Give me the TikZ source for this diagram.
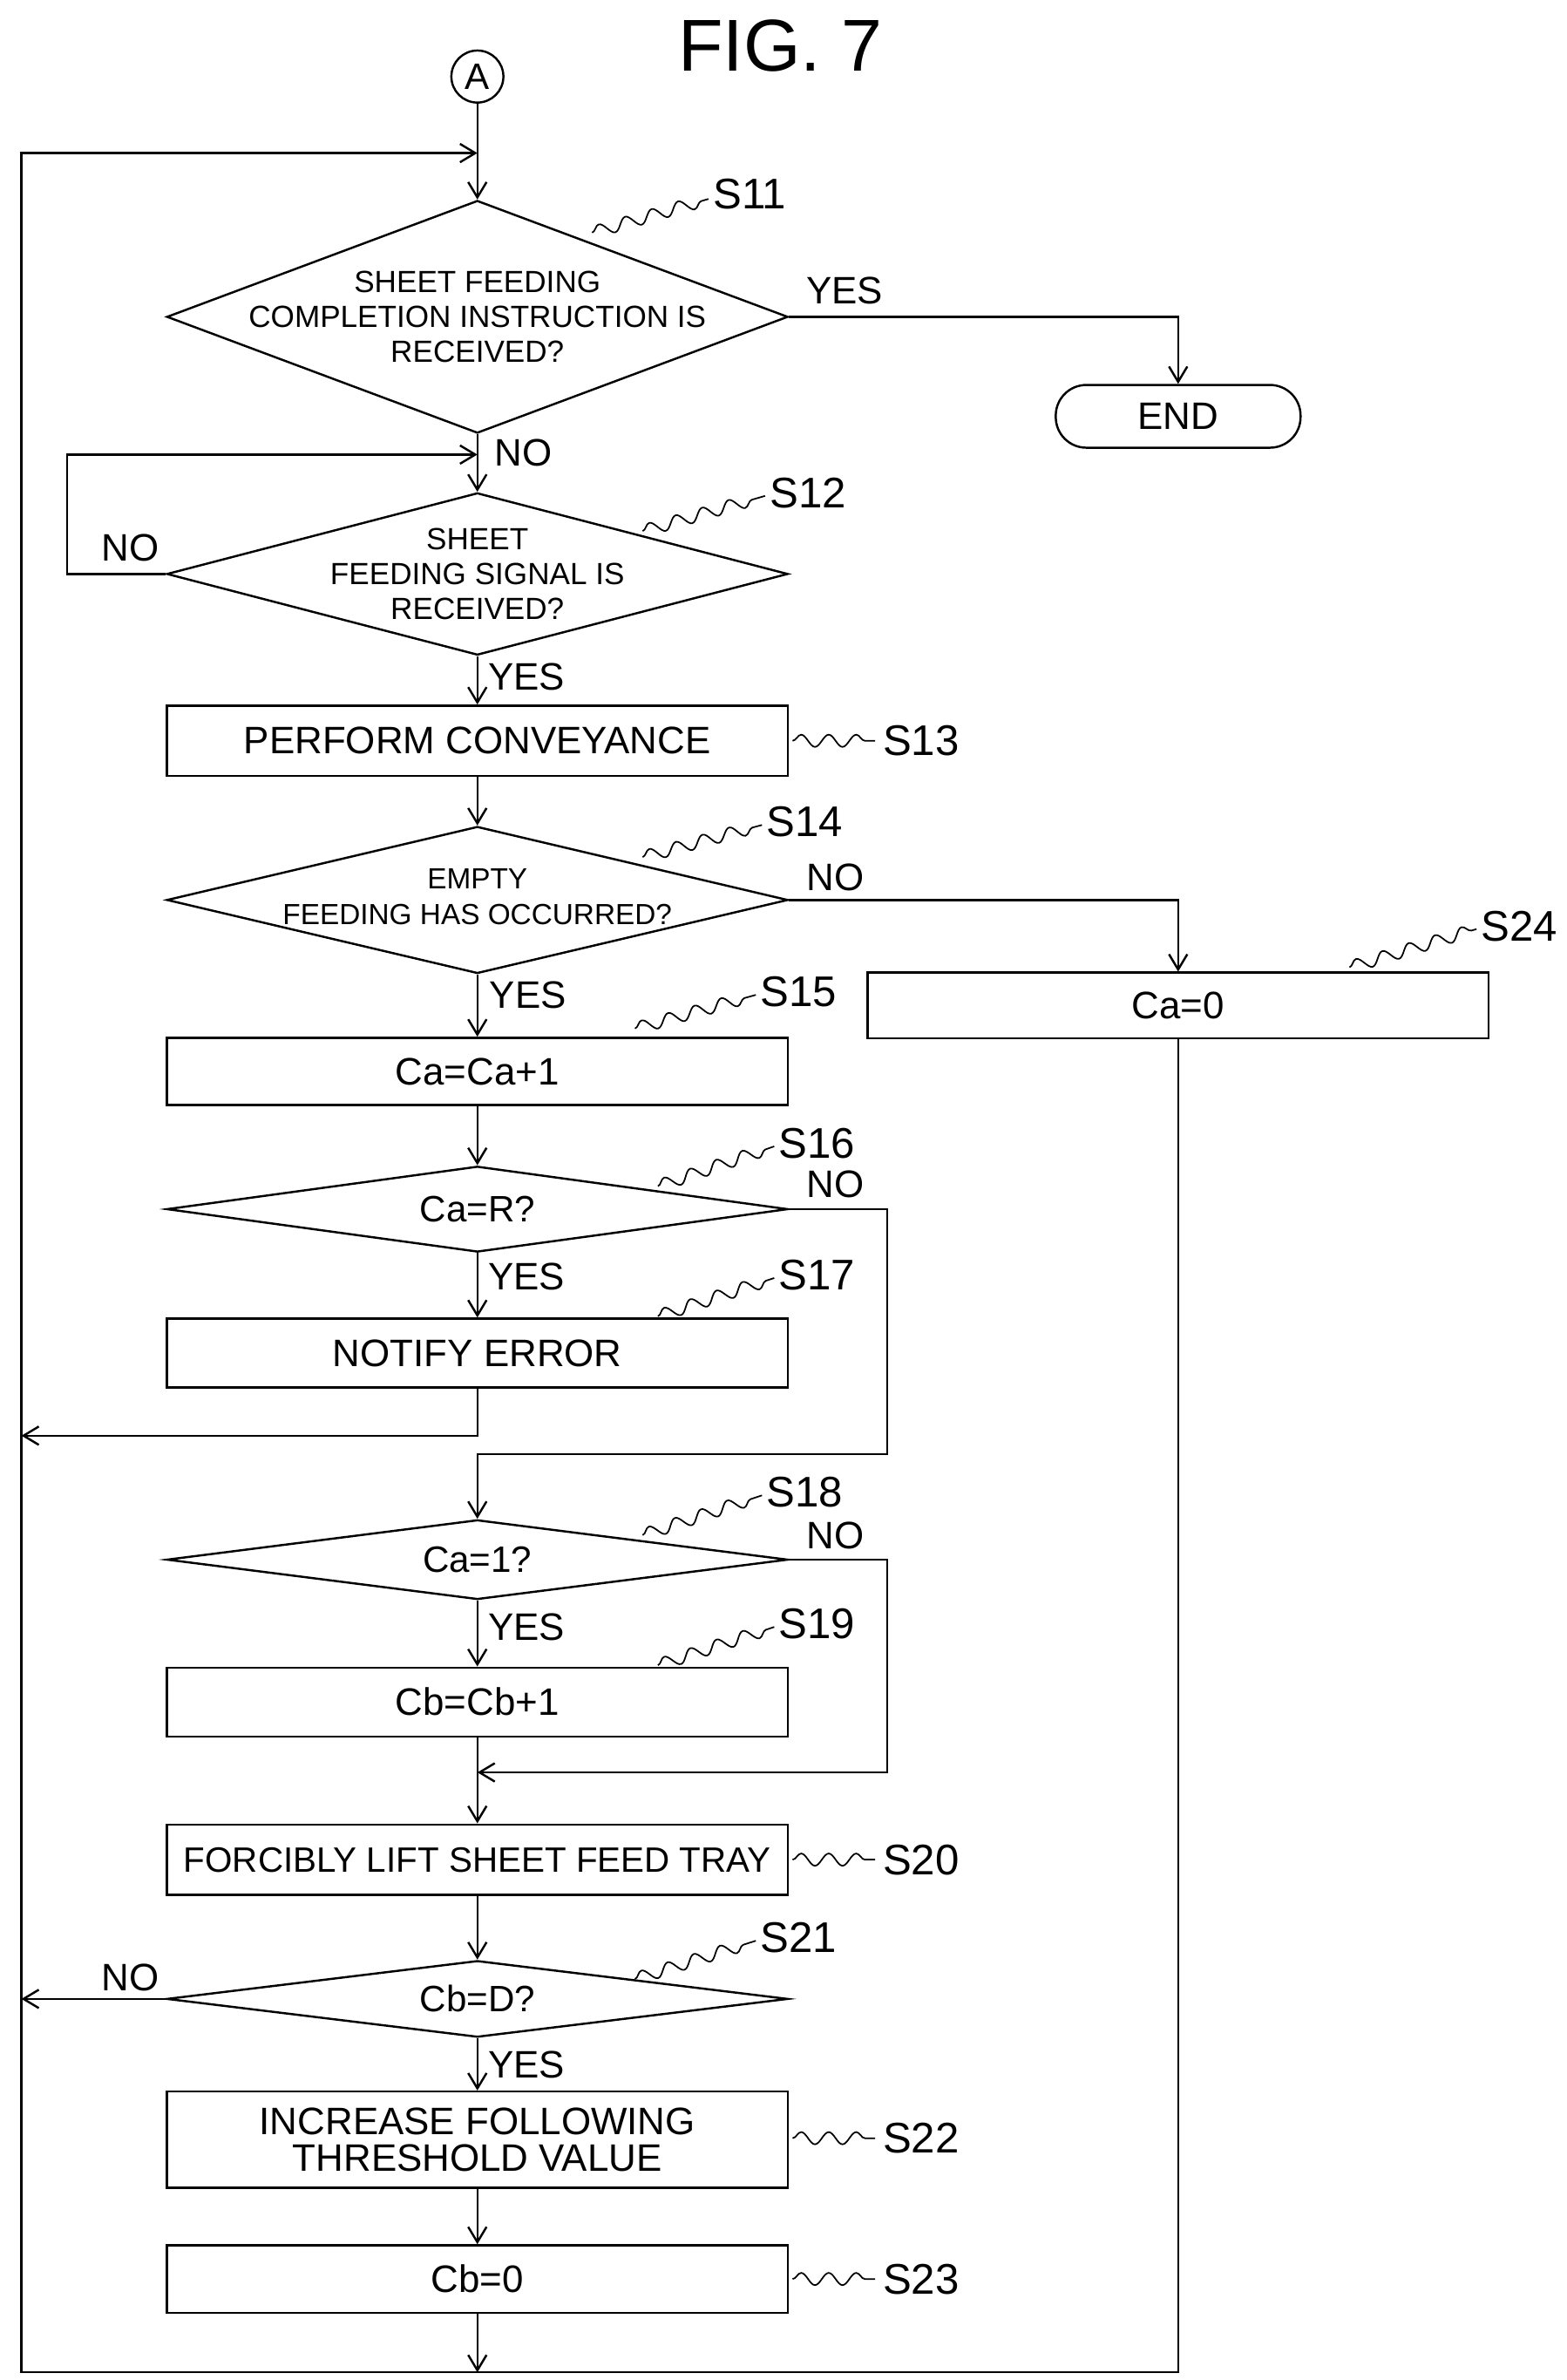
\documentclass[tikz,border=0pt]{standalone}
\usepackage{fontspec}
\setmainfont{Liberation Sans}
\usetikzlibrary{shapes.geometric,arrows.meta,decorations.pathmorphing}
\begin{document}
\begin{tikzpicture}[x=0.5pt,y=-0.5pt,line width=0.7pt,
  box/.style={draw,rectangle,minimum width=203pt,inner sep=0pt,font=\fontsize{12.5}{13}\selectfont},
  dia/.style={draw,diamond,minimum width=203pt,inner sep=0pt},
  dt/.style={align=center,font=\fontsize{10}{11.5}\selectfont,inner sep=0pt},
  lab/.style={font=\fontsize{12.5}{13}\selectfont,inner sep=1pt},
  stp/.style={font=\fontsize{14}{15}\selectfont,inner sep=1pt},
  arr/.style={-{Straight Barb[length=5pt,width=6pt]}},
  sq/.style={line width=0.5pt,decorate,decoration={snake,amplitude=2pt,segment length=9pt}}]
\useasboundingbox (0,0) rectangle (1024,1555);
\node[font=\fontsize{24}{26}\selectfont] (fig) at (510,30) {FIG. 7};
\node[draw,circle,minimum size=17pt,inner sep=0pt,font=\fontsize{12}{13}\selectfont] (A) at (312,50) {A};
\coordinate (j0) at (312,100);
\node[dia,minimum height=76pt] (s11) at (312,207) {};
\node[dt] at (s11) {SHEET FEEDING\\COMPLETION INSTRUCTION IS\\RECEIVED?};
\node[draw,rounded corners=10pt,minimum width=80pt,minimum height=20.5pt,font=\fontsize{12.5}{13}\selectfont] (end) at (770,272) {END};
\coordinate (j1) at (312,297);
\node[dia,minimum height=53pt] (s12) at (312,375) {};
\node[dt] at (s12) {SHEET\\FEEDING SIGNAL IS\\RECEIVED?};
\node[box,minimum height=23pt] (s13) at (312,484) {PERFORM CONVEYANCE};
\node[dia,minimum height=48pt] (s14) at (312,588) {};
\node[dt,font=\fontsize{9.5}{11.5}\selectfont] at (312,586) {EMPTY\\FEEDING HAS OCCURRED?};
\node[box,minimum height=21.5pt] (s24) at (770,657) {Ca=0};
\node[box,minimum height=22pt] (s15) at (312,700) {Ca=Ca+1};
\node[dia,minimum height=28pt] (s16) at (312,790) {};
\node[dt,font=\fontsize{12}{13}\selectfont] at (s16) {Ca=R?};
\node[box,minimum height=22.5pt] (s17) at (312,884) {NOTIFY ERROR};
\coordinate (j2) at (312,950);
\node[dia,minimum height=26pt] (s18) at (312,1019) {};
\node[dt,font=\fontsize{12}{13}\selectfont] at (s18) {Ca=1?};
\node[box,minimum height=22.5pt] (s19) at (312,1112) {Cb=Cb+1};
\coordinate (j3) at (312,1158);
\node[box,minimum height=23pt,font=\fontsize{11.5}{12}\selectfont] (s20) at (312,1215) {FORCIBLY LIFT SHEET FEED TRAY};
\node[dia,minimum height=25pt] (s21) at (312,1306) {};
\node[dt,font=\fontsize{12}{13}\selectfont] at (s21) {Cb=D?};
\node[box,minimum height=31.5pt,align=center,font=\fontsize{12.5}{12}\selectfont] (s22) at (312,1398) {INCREASE FOLLOWING\\THRESHOLD VALUE};
\node[box,minimum height=22pt] (s23) at (312,1489) {Cb=0};
\coordinate (bot) at (312,1550);
% main flow
\draw[arr] (A) -- (s11.north);
\draw[arr] (s11.south) -- (s12.north);
\draw[arr] (s12.south) -- (s13.north);
\draw[arr] (s13.south) -- (s14.north);
\draw[arr] (s14.south) -- (s15.north);
\draw[arr] (s15.south) -- (s16.north);
\draw[arr] (s16.south) -- (s17.north);
\draw[arr] (s19.south) -- (s20.north);
\draw[arr] (s18.south) -- (s19.north);
\draw[arr] (s20.south) -- (s21.north);
\draw[arr] (s21.south) -- (s22.north);
\draw[arr] (s22.south) -- (s23.north);
\draw[arr] (s23.south) -- (bot);
\draw[arr] (s11.east) -| (end.north);
\draw[arr] (s14.east) -| (s24.north);
\draw[arr] (s12.west) -- (44,375) |- (j1);
\draw[arr] (s24.south) |- (14,1550) |- (j0);
\draw[arr] (s17.south) |- (14,938);
\draw[arr] (s16.east) -| (580,950) -- (j2) -- (s18.north);
\draw[arr] (s18.east) -| (580,1158) -- (j3);
\draw[arr] (s21.west) -- (14,1306);
% labels
\node[lab] (l1) at (552,190) {YES};
\node[lab] (l2) at (342,296) {NO};
\node[lab] (l3) at (85,358) {NO};
\node[lab] (l4) at (344,442) {YES};
\node[lab] (l5) at (546,573) {NO};
\node[lab] (l6) at (345,650) {YES};
\node[lab] (l7) at (546,774) {NO};
\node[lab] (l8) at (344,834) {YES};
\node[lab] (l9) at (546,1003) {NO};
\node[lab] (l10) at (344,1063) {YES};
\node[lab] (l11) at (85,1292) {NO};
\node[lab] (l12) at (344,1349) {YES};
% step labels
\node[stp] (t11) at (490,127) {S11}; \draw[sq] (387,152) -- (463,130);
\node[stp] (t12) at (528,322) {S12}; \draw[sq] (420,347) -- (500,324);
\node[stp] (t13) at (602,484) {S13}; \draw[sq] (518,484) -- (572,484);
\node[stp] (t14) at (526,537) {S14}; \draw[sq] (420,560) -- (498,539);
\node[stp] (t24) at (993,605) {S24}; \draw[sq] (882,632) -- (965,607);
\node[stp] (t15) at (522,648) {S15}; \draw[sq] (415,672) -- (494,650);
\node[stp] (t16) at (534,747) {S16}; \draw[sq] (430,775) -- (506,749);
\node[stp] (t17) at (534,833) {S17}; \draw[sq] (430,860) -- (506,835);
\node[stp] (t18) at (526,975) {S18}; \draw[sq] (420,1003) -- (498,977);
\node[stp] (t19) at (534,1061) {S19}; \draw[sq] (430,1088) -- (506,1063);
\node[stp] (t20) at (602,1215) {S20}; \draw[sq] (518,1215) -- (572,1215);
\node[stp] (t21) at (522,1266) {S21}; \draw[sq] (415,1293) -- (494,1268);
\node[stp] (t22) at (602,1397) {S22}; \draw[sq] (518,1397) -- (572,1397);
\node[stp] (t23) at (602,1489) {S23}; \draw[sq] (518,1489) -- (572,1489);
\end{tikzpicture}
\end{document}
